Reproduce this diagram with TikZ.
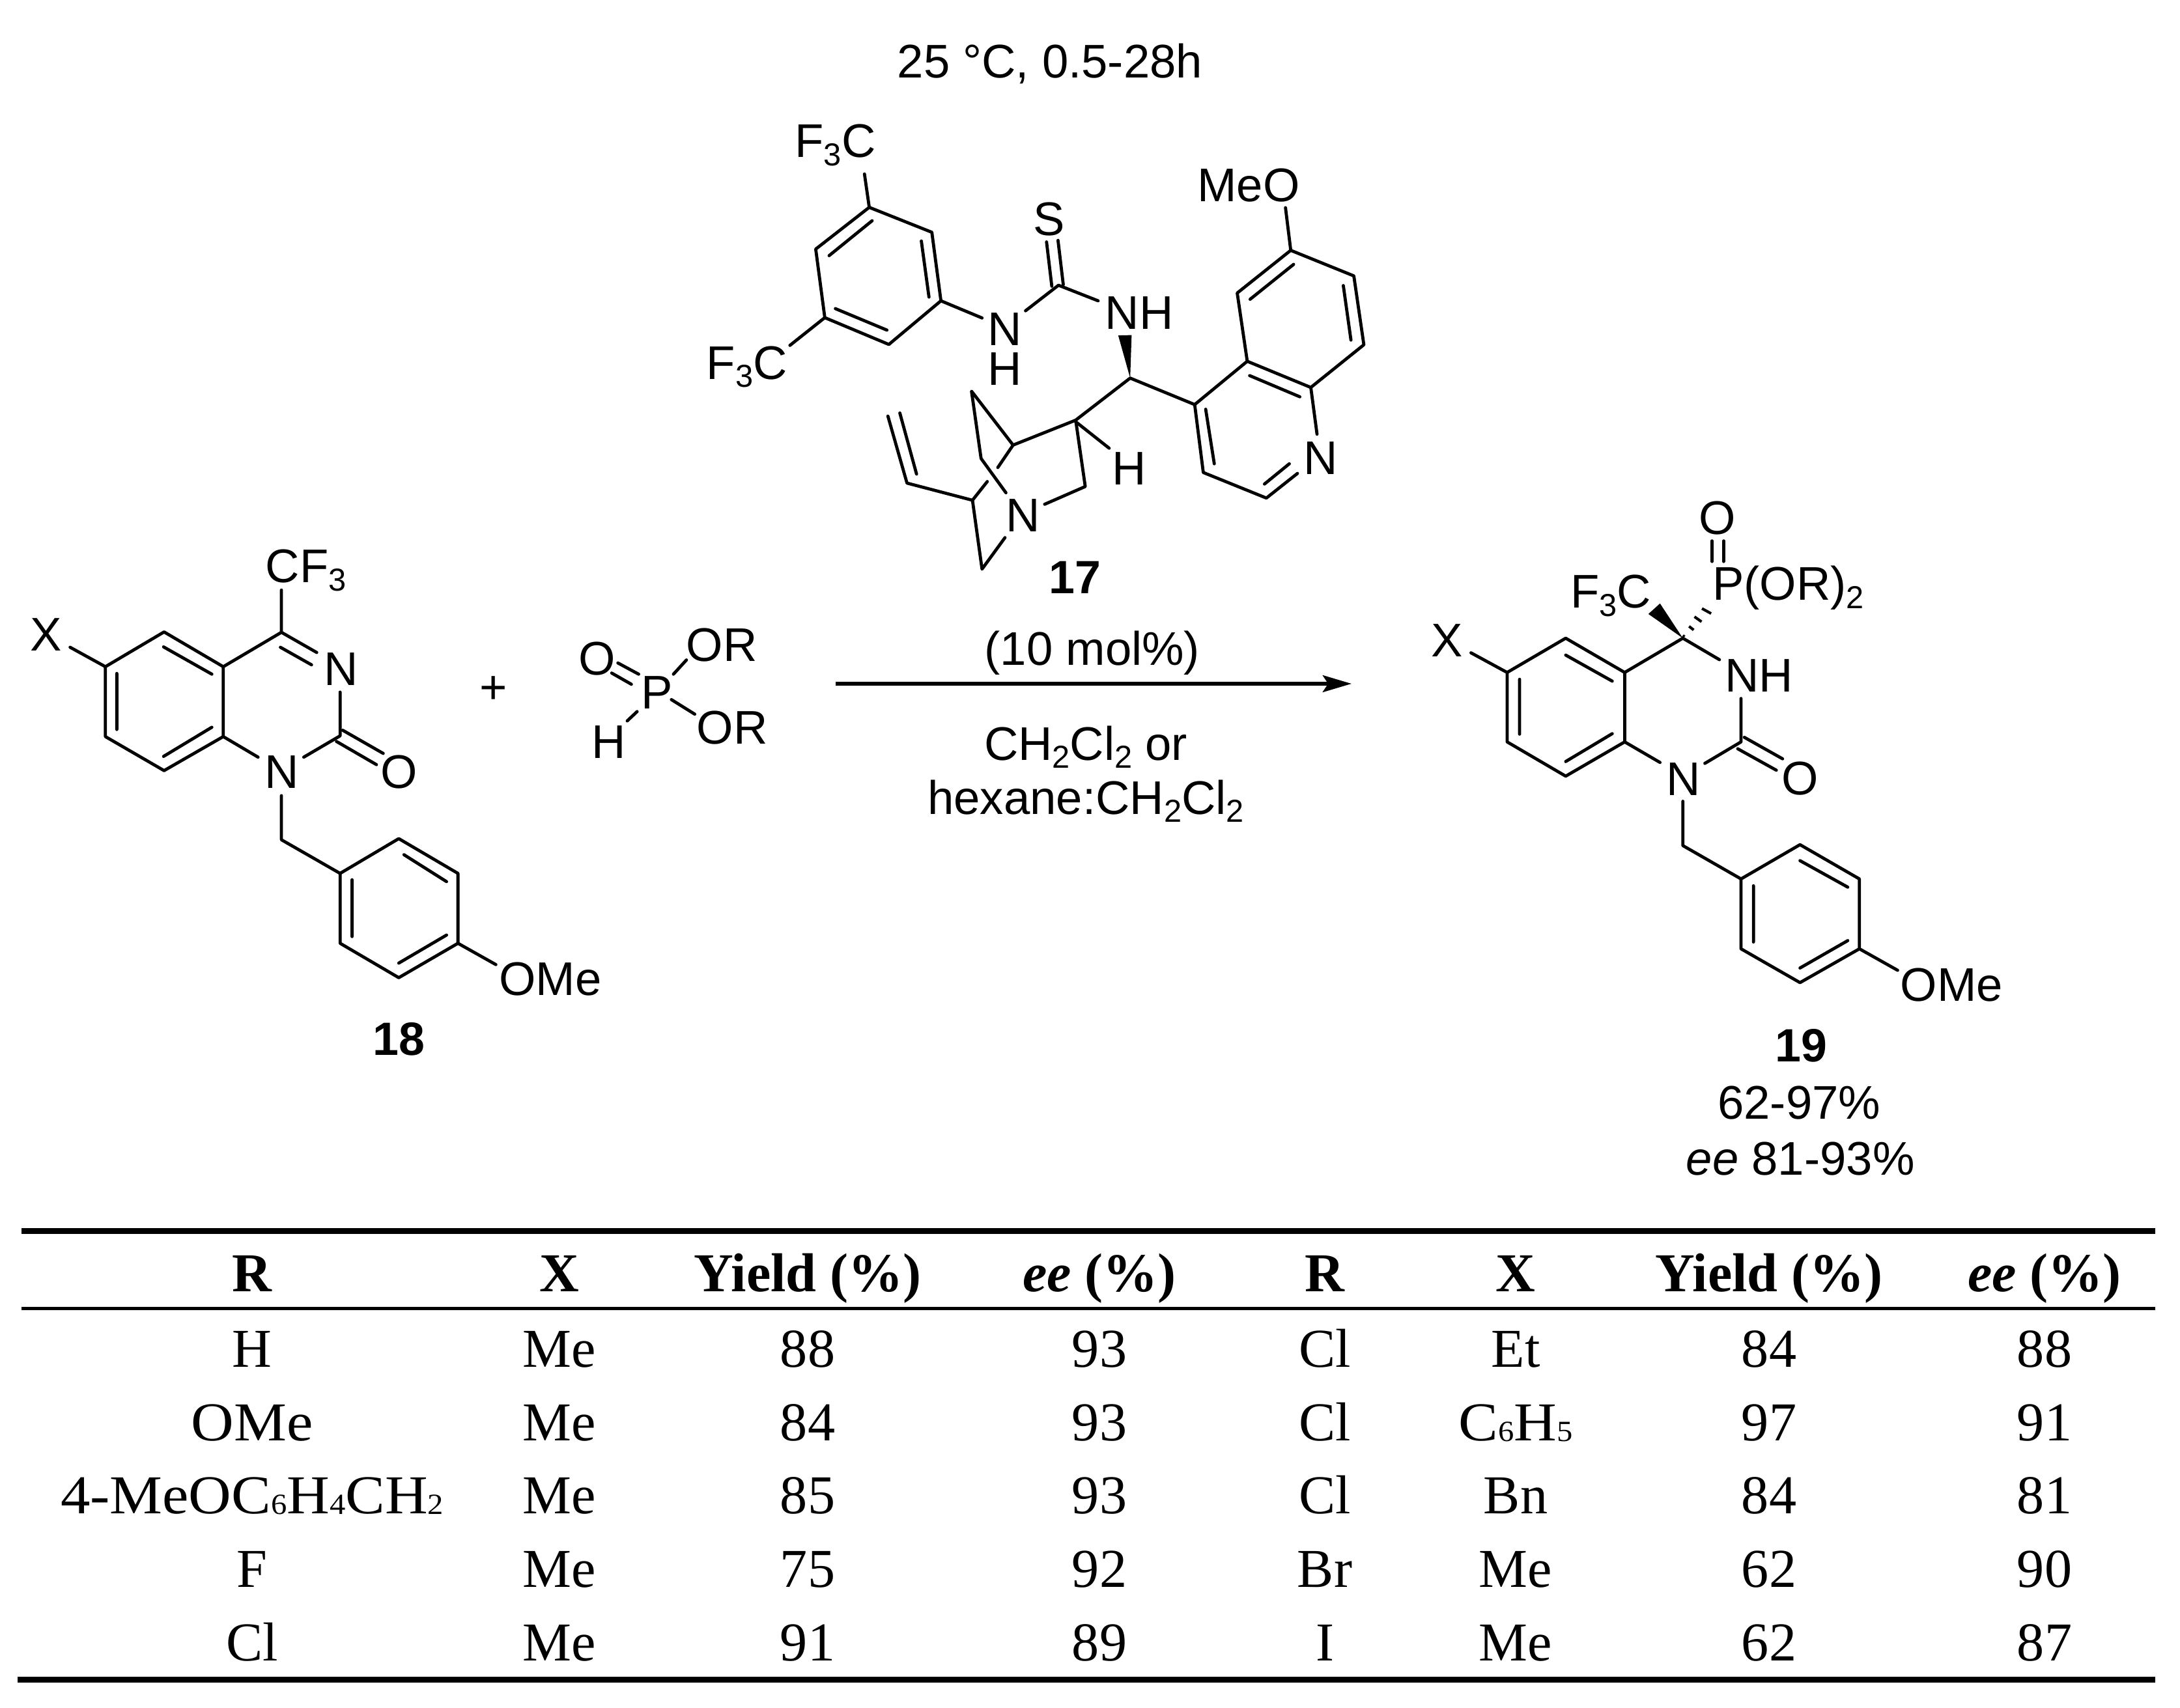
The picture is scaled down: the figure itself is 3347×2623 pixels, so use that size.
\documentclass[tikz,border=0pt]{standalone}
\usepackage{fontspec}
\setmainfont{Liberation Serif}
\newfontfamily\arialf{Liberation Sans}
\usetikzlibrary{arrows.meta}
\newcommand{\msub}[1]{\raisebox{-3.1pt}{\fontsize{11.7}{11.7}\selectfont #1}}
\newcommand{\tsub}[1]{\raisebox{-0.4pt}{\fontsize{10.8}{10.8}\selectfont #1}}
\newcommand{\wide}[1]{\scalebox{1.08}[1]{#1}}
\tikzset{
  bond/.style={line width=1.15pt,line join=round,line cap=round},
  rule/.style={line width=#1,line cap=butt},
  lab/.style={anchor=base,inner sep=0pt,font=\arialf\fontsize{17.4}{17.4}\selectfont},
  labl/.style={lab,anchor=base west},
  cmpd/.style={lab,font=\arialf\bfseries\fontsize{17.2}{17.2}\selectfont},
  cell/.style={anchor=base,inner sep=0pt,font=\fontsize{20.2}{20.2}\selectfont},
  head/.style={anchor=base,inner sep=0pt,font=\bfseries\fontsize{20.2}{20.2}\selectfont}
}
\begin{document}
\begin{tikzpicture}[x=0.24pt,y=-0.24pt]
\useasboundingbox (0,0) rectangle (3347,2623);
\fill[white] (0,0) rectangle (3347,2623);

% conditions
\node[lab] (temp) at (1612,120) {25 °C, 0.5-28h};
\node[lab] (mol) at (1677,1021) {(10 mol\%)};
\node[lab] (solA) at (1667,1167) {CH\msub{2}Cl\msub{2} or};
\node[lab] (solB) at (1667,1250) {hexane:CH\msub{2}Cl\msub{2}};
\coordinate (arrS) at (1283,1050);
\coordinate (arrE) at (2075,1050);
\draw[line width=1.25pt,-{Stealth[length=10.6pt,width=6.2pt,inset=2pt]}] (arrS) -- (arrE);

% catalyst 17
\begin{scope}[shift={(1000,150)},xscale=0.7337,yscale=0.4785]
\draw[bond] (456,352)--(587,432)--(606,652)--(497,792)--(363,706)--(344,486)--cycle;
\draw[bond] (462,395)--(372,507) (565,460)--(581,640) (385,677)--(493,746);
\draw[bond] (456,352)--(446,245) (363,706)--(290,795);
\draw[bond] (606,652)--(692,707) (783,684)--(852,602)--(935,652);
\draw[bond] (838,605)--(827,463) (862,600)--(851,458);
\fill (1002,900)--(977,763)--(1005,762)--cycle;
\draw[bond] (888,1035)--(1002,900)--(1137,985);
\draw[bond] (1247,846)--(1226,627)--(1338,490)--(1470,572)--(1491,793)--(1380,930)--cycle;
\draw[bond] (1253,647)--(1344,535) (1448,603)--(1464,778) (1252,892)--(1357,960);
\draw[bond] (1338,490)--(1327,353);
\draw[bond] (1247,846)--(1137,985)--(1155,1203)--(1287,1285)--(1352,1206);
\draw[bond] (1380,930)--(1393,1080);
\draw[bond] (1160,1000)--(1178,1175) (1283,1240)--(1335,1175);
\draw[bond] (725,1187)--(757,1115)--(888,1035)--(908,1248)--(823,1305);
\draw[bond] (757,1115)--(670,942)--(690,1158)--(742,1268);
\draw[bond] (888,1040)--(958,1125);
\draw[bond] (703,1232)--(672,1292)--(535,1237)--(495,1022);
\draw[bond] (555,1208)--(520,1012);
\draw[bond] (672,1292)--(692,1513)--(740,1412);
\node[lab] (cfA) at (385,192) {F\msub{3}C};
\node[lab] (cfB) at (200,903) {F\msub{3}C};
\node[lab] (nA) at (740,795) {N};
\node[lab] (hA) at (740,922) {H};
\node[lab] (sA) at (832,441) {S};
\node[lab] (nhA) at (1021,743) {NH};
\node[lab] (hB) at (1000,1243) {H};
\node[lab] (meoA) at (1250,333) {MeO};
\node[lab] (nB) at (1400,1208) {N};
\node[lab] (nC) at (778,1393) {N};
\end{scope}
\node[cmpd] (c17) at (1650,911) {17};

% reactants 18 and phosphite
\begin{scope}[shift={(0,800)},xscale=0.7972,yscale=0.574]
\draw[bond] (203,390)--(316,297)--(430,390)--(430,577)--(316,668)--(203,577)--cycle;
\draw[bond] (315,337)--(408,410) (225,408)--(225,558) (315,630)--(408,552);
\draw[bond] (430,390)--(542,298)--(610,352) (540,338)--(600,385);
\draw[bond] (655,458)--(655,575)--(585,632) (430,577)--(497,632);
\draw[bond] (660,560)--(738,622) (648,590)--(725,652);
\draw[bond] (542,735)--(542,853)--(655,943);
\draw[bond] (655,943)--(768,850)--(882,943)--(882,1130)--(768,1222)--(655,1130)--cycle;
\draw[bond] (778,893)--(860,965) (678,960)--(678,1112) (768,1183)--(860,1108);
\draw[bond] (882,1130)--(955,1187) (542,298)--(542,185) (203,390)--(135,338);
\draw[bond] (1190,380)--(1230,410) (1178,407)--(1216,437);
\draw[bond] (1297,410)--(1322,372) (1293,478)--(1338,517) (1227,510)--(1208,535);
\node[lab] (cfC) at (589,165) {CF\msub{3}};
\node[lab] (nD) at (657,440) {N};
\node[lab] (nE) at (543,716) {N};
\node[lab] (oA) at (768,716) {O};
\node[lab] (xA) at (89,348) {X};
\node[lab] (meA) at (1060,1270) {OMe};
\node[lab] (plus) at (950,488) {+};
\node[lab] (pA) at (1265,502) {P};
\node[lab] (oB) at (1150,412) {O};
\node[lab] (orA) at (1390,375) {OR};
\node[lab] (orB) at (1410,597) {OR};
\node[lab] (hC) at (1172,635) {H};
\node[cmpd] (c18) at (768,1430) {18};
\end{scope}

% product 19
\begin{scope}[shift={(2150,750)},xscale=0.6378,yscale=0.7015]
\draw[bond] (257,403)--(398,328)--(540,403)--(540,555)--(398,630)--(257,555)--cycle;
\draw[bond] (398,365)--(510,422) (287,418)--(287,538) (398,598)--(510,537);
\draw[bond] (540,403)--(680,328)--(768,375);
\draw[bond] (820,460)--(820,555)--(733,602) (540,555)--(625,600);
\draw[bond] (828,545)--(920,592) (812,570)--(905,617);
\draw[bond] (680,685)--(680,782)--(820,855);
\draw[bond] (820,855)--(962,780)--(1105,855)--(1105,1008)--(962,1082)--(820,1008)--cycle;
\draw[bond] (962,815)--(1077,873) (850,870)--(850,993) (962,1050)--(1077,990);
\draw[bond] (1105,1008)--(1197,1055) (257,403)--(170,360);
\fill (680,328)--(625,252)--(597,275)--cycle;
\draw[line width=1pt] (680,322)--(684,325) (695,302)--(706,310) (708,281)--(725,292) (726,263)--(748,274);
\draw[bond] (750,115)--(750,160) (778,115)--(778,160);
\node[lab] (xB) at (113,368) {X};
\node[lab] (nhB) at (863,445) {NH};
\node[lab] (oC) at (962,670) {O};
\node[lab] (nF) at (681,672) {N};
\node[lab] (meB) at (1327,1122) {OMe};
\node[lab] (cfD) at (507,262) {F\msub{3}C};
\node[labl] (pB) at (750,245) {P(OR)\msub{2}};
\node[lab] (oD) at (763,100) {O};
\node[cmpd] (c19) at (965,1255) {19};
\node[lab] (yld) at (960,1380) {62-97\%};
\node[lab] (eeL) at (963,1503) {{\itshape ee} 81-93\%};
\end{scope}

% table rules
\coordinate (tlA) at (33,1890.5);  \coordinate (trA) at (3309,1890.5);
\coordinate (tlB) at (33,2009.5);  \coordinate (trB) at (3309,2009.5);
\coordinate (tlC) at (27,2579.5);  \coordinate (trC) at (3309,2579.5);
\draw[rule=2.16pt] (tlA)--(trA);
\draw[rule=1.2pt] (tlB)--(trB);
\draw[rule=2.16pt] (tlC)--(trC);

% table header
\node[head] (hR1) at (387,1983) {R};
\node[head] (hX1) at (859,1983) {X};
\node[head] (hY1) at (1240,1983) {Yield (\%)};
\node[head] (hE1) at (1688,1983) {\itshape ee \upshape(\%)};
\node[head] (hR2) at (2034,1983) {R};
\node[head] (hX2) at (2327,1983) {X};
\node[head] (hY2) at (2716,1983) {Yield (\%)};
\node[head] (hE2) at (3139,1983) {\itshape ee \upshape(\%)};

% table body
\foreach \yy/\ca/\cb/\cc/\cd/\ce/\cf/\cg/\ch in {
  2099/H/Me/88/93/Cl/Et/84/88,
  2212/{\wide{OMe}}/Me/84/93/Cl/{\wide{C\tsub{6}H\tsub{5}}}/97/91,
  2324/{\wide{4-MeOC\tsub{6}H\tsub{4}CH\tsub{2}}}/Me/85/93/Cl/Bn/84/81,
  2437/F/Me/75/92/Br/Me/62/90,
  2550/Cl/Me/91/89/I/Me/62/87}
{
  \node[cell] (a\yy) at (387,\yy) {\ca};
  \node[cell] (b\yy) at (859,\yy) {\cb};
  \node[cell] (c\yy) at (1240,\yy) {\cc};
  \node[cell] (d\yy) at (1688,\yy) {\cd};
  \node[cell] (e\yy) at (2034,\yy) {\ce};
  \node[cell] (f\yy) at (2327,\yy) {\cf};
  \node[cell] (g\yy) at (2716,\yy) {\cg};
  \node[cell] (h\yy) at (3139,\yy) {\ch};
}
\end{tikzpicture}
\end{document}
